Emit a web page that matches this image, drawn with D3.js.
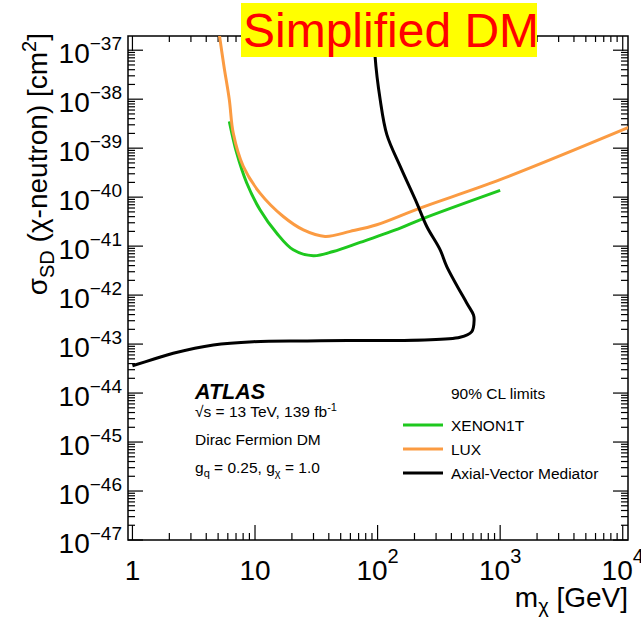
<!DOCTYPE html>
<html><head><meta charset="utf-8">
<script src="https://cdn.jsdelivr.net/npm/d3@7"></script>
<style>html,body{margin:0;padding:0;background:#fff;}svg{display:block;}text{font-family:"Liberation Sans",Arial,Helvetica,sans-serif;}</style>
</head><body><svg id="c" width="641" height="623"></svg>
<script>
// ---- data ----
const xenonMass = [6.17, 7.09, 8.56, 10.98, 15.0, 20.5, 29.9, 43.5, 71.9, 153, 222, 1000];
const xenonXsec = [3.53e-39, 7.98e-40, 1.94e-40, 5.52e-41, 1.85e-41, 8.4e-42, 6.34e-42, 7.76e-42, 1.19e-41, 2.33e-41, 3.45e-41, 1.37e-40];
const luxMass = [5.05, 5.58, 6.17, 6.65, 8.02, 10.98, 17.0, 24.8, 37.3, 59.7, 98.5, 222, 1000, 12000];
const luxXsec = [2.6e-37, 4.7e-38, 9.8e-39, 2.0e-39, 4.25e-40, 1.21e-40, 4.03e-41, 2.15e-41, 1.58e-41, 2.0e-41, 2.73e-41, 5.98e-41, 2.27e-40, 2.85e-39];
const avMass = [1.0, 1.5, 2.15, 4.57, 9.68, 34, 471, 587, 613, 606, 535, 367, 324, 252, 209, 153, 119, 105, 95.4, 94];
const avXsec = [3.61e-44, 4.95e-44, 6.49e-44, 9.6e-44, 1.12e-43, 1.17e-43, 1.38e-43, 1.8e-43, 3.11e-43, 3.94e-43, 6.82e-43, 3.83e-42, 8.4e-42, 2.52e-41, 7.57e-41, 4.25e-40, 1.89e-39, 9.8e-39, 7.5e-38, 3e-37];
const xTickValues = [1, 10, 100, 1000, 10000];
const xTickBase = ["1", "10", "10", "10", "10"];
const xTickExp = ["", "", "2", "3", "4"];
const yTickValues = [1e-37,1e-38,1e-39,1e-40,1e-41,1e-42,1e-43,1e-44,1e-45,1e-46,1e-47];
const yTickExp = ["−37","−38","−39","−40","−41","−42","−43","−44","−45","−46","−47"];
const legendLabels = ["XENON1T", "LUX", "Axial-Vector Mediator"];
const colors = ["#1ec81e", "#fb9b42", "#000000"];

// ---- layout ----
const L = 128, R = 628, T = 36, B = 540;
const svg = d3.select("#c");
const x = d3.scaleLog().domain([0.92, 11040]).range([L, R]);
const y = d3.scaleLog().domain([1e-47, Math.pow(10, -36.71)]).range([B, T]);

svg.append("defs").append("clipPath").attr("id","clip")
  .append("rect").attr("x", L).attr("y", T).attr("width", R - L).attr("height", B - T);

// ticks
const g = svg.append("g").attr("stroke", "#000").attr("stroke-width", 1.2);
const xMajor = [], xMinor = [];
for (let e = 0; e <= 4; e++) {
  xMajor.push(Math.pow(10, e));
  for (let k = 2; k <= 9; k++) { const v = k * Math.pow(10, e); if (v <= 11040) xMinor.push(v); }
}
const yMajor = [], yMinor = [];
for (let e = -47; e <= -37; e++) {
  yMajor.push(Math.pow(10, e));
  for (let k = 2; k <= 9; k++) { const v = k * Math.pow(10, e); if (v <= Math.pow(10, -36.71)) yMinor.push(v); }
}
const ML = 15, mL = 7;
xMajor.forEach(v => {
  g.append("line").attr("x1", x(v)).attr("x2", x(v)).attr("y1", B).attr("y2", B - ML);
  g.append("line").attr("x1", x(v)).attr("x2", x(v)).attr("y1", T).attr("y2", T + ML);
});
xMinor.forEach(v => {
  g.append("line").attr("x1", x(v)).attr("x2", x(v)).attr("y1", B).attr("y2", B - mL);
  g.append("line").attr("x1", x(v)).attr("x2", x(v)).attr("y1", T).attr("y2", T + mL - 1);
});
yMajor.forEach(v => {
  g.append("line").attr("y1", y(v)).attr("y2", y(v)).attr("x1", L).attr("x2", L + ML);
  g.append("line").attr("y1", y(v)).attr("y2", y(v)).attr("x1", R).attr("x2", R - ML);
});
yMinor.forEach(v => {
  g.append("line").attr("y1", y(v)).attr("y2", y(v)).attr("x1", L).attr("x2", L + mL);
  g.append("line").attr("y1", y(v)).attr("y2", y(v)).attr("x1", R).attr("x2", R - mL);
});
svg.append("rect").attr("x", L).attr("y", T).attr("width", R - L).attr("height", B - T)
  .attr("fill", "none").attr("stroke", "#000").attr("stroke-width", 1.5);

// tick labels
xTickValues.forEach((v, i) => {
  const t = svg.append("text").attr("x", x(v)).attr("y", 580).attr("text-anchor", "middle")
    .attr("font-size", 28).attr("fill", "#000");
  t.append("tspan").text(xTickBase[i]);
  if (xTickExp[i]) t.append("tspan").attr("font-size", 20).attr("dy", -17).text(xTickExp[i]);
});
yTickValues.forEach((v, i) => {
  const t = svg.append("text").attr("x", 122).attr("y", y(v) + 12.5).attr("text-anchor", "end")
    .attr("font-size", 28).attr("fill", "#000");
  t.append("tspan").text("10");
  t.append("tspan").attr("font-size", 19).attr("dy", -13).text(yTickExp[i]);
});

// axis titles
const xt = svg.append("text").attr("x", 628).attr("y", 607).attr("text-anchor", "end").attr("font-size", 28);
xt.append("tspan").text("m");
xt.append("tspan").attr("font-size", 20).attr("dy", 6).text("χ");
xt.append("tspan").attr("dy", -6).text(" [GeV]");

const yt = svg.append("text").attr("transform", "translate(47,33) rotate(-90)").attr("text-anchor", "end").attr("font-size", 28);
yt.append("tspan").text("σ");
yt.append("tspan").attr("font-size", 20).attr("dy", 7).text("SD");
yt.append("tspan").attr("dy", -7).text(" (χ-neutron) [cm");
yt.append("tspan").attr("font-size", 20).attr("dy", -11).text("2");
yt.append("tspan").attr("dy", 11).text("]");

// curves
const line = d3.line().x(d => x(d[0])).y(d => y(d[1])).curve(d3.curveCatmullRom.alpha(0.5));
const series = [
  xenonMass.map((m, i) => [m, xenonXsec[i]]),
  luxMass.map((m, i) => [m, luxXsec[i]]),
  avMass.map((m, i) => [m, avXsec[i]])
];
const cg = svg.append("g").attr("clip-path", "url(#clip)");
series.forEach((s, i) => {
  cg.append("path").datum(s).attr("d", line).attr("fill", "none")
    .attr("stroke", colors[i]).attr("stroke-width", 3).attr("stroke-linejoin", "round");
});

// ATLAS labels
svg.append("text").attr("x", 195).attr("y", 399).attr("font-size", 21.5).attr("font-weight", "bold")
  .attr("font-style", "italic").text("ATLAS");
const fs = 15.5, fsub = 11;
const s1 = svg.append("text").attr("x", 195).attr("y", 417).attr("font-size", fs);
s1.append("tspan").text("√s = 13 TeV, 139 fb");
s1.append("tspan").attr("font-size", fsub).attr("dy", -6).text("-1");
svg.append("text").attr("x", 195).attr("y", 445).attr("font-size", fs).text("Dirac Fermion DM");
const s3 = svg.append("text").attr("x", 195).attr("y", 473).attr("font-size", fs);
s3.append("tspan").text("g");
s3.append("tspan").attr("font-size", fsub).attr("dy", 4).text("q");
s3.append("tspan").attr("dy", -4).text(" = 0.25, g");
s3.append("tspan").attr("font-size", fsub).attr("dy", 4).text("χ");
s3.append("tspan").attr("dy", -4).text(" = 1.0");

// legend
svg.append("text").attr("x", 451).attr("y", 399).attr("font-size", fs).text("90% CL limits");
legendLabels.forEach((lab, i) => {
  const yy = 425 + i * 24;
  svg.append("line").attr("x1", 403).attr("x2", 443).attr("y1", yy).attr("y2", yy)
    .attr("stroke", colors[i]).attr("stroke-width", 3);
  svg.append("text").attr("x", 451).attr("y", yy + 5.5).attr("font-size", fs).text(lab);
});

// title box
svg.append("rect").attr("x", 241).attr("y", 3).attr("width", 296).attr("height", 54).attr("fill", "#ffff00");
svg.append("text").attr("x", 243).attr("y", 47).attr("font-size", 48).attr("fill", "#ff0000").text("Simplified DM");
</script></body></html>
